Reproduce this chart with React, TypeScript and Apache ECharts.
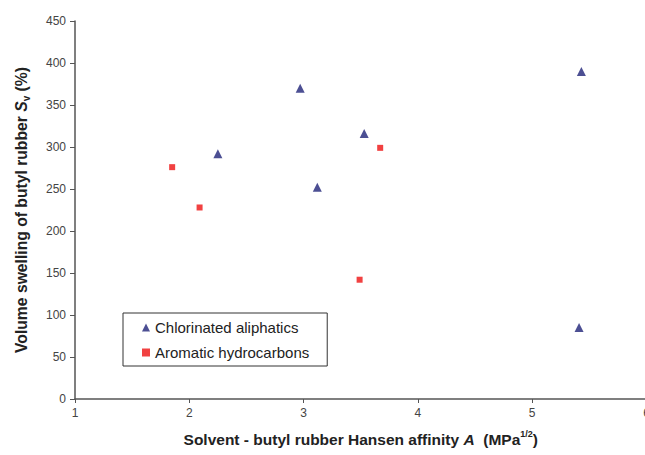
import React, { useEffect, useRef } from "react";
import * as echarts from "echarts";

const chlorinatedX = [5.43, 2.97, 3.53, 2.25, 3.12, 5.41];
const chlorinatedY = [390, 370, 316, 292, 252, 85];
const aromaticX = [1.85, 2.09, 3.67, 3.49];
const aromaticY = [276, 228, 299, 142];
const xTicks = [1, 6, 1];
const yTicks = [0, 450, 50];

export default function App() {
  const ref = useRef<HTMLDivElement>(null);
  useEffect(() => {
    document.body.style.margin = "0";
    const chart = echarts.init(ref.current!, null, { renderer: "svg" });
    const font = "Liberation Sans, Arial, sans-serif";
    chart.setOption({
      animation: false,
      backgroundColor: "#ffffff",
      textStyle: { fontFamily: font },
      grid: { left: 75, right: -1.5, top: 21, bottom: 56, containLabel: false, outerBoundsMode: "none" },
      legend: {
        orient: "vertical",
        left: 123,
        top: 313,
        padding: [7, 18, 6, 19],
        itemGap: 10,
        itemWidth: 8,
        itemHeight: 8,
        itemTextGap: 4,
        itemStyle: { borderWidth: 0 },
        borderColor: "#333333",
        borderWidth: 1,
        textStyle: { fontFamily: font, fontSize: 15, lineHeight: 15, color: "#222222" },
        data: [
          { name: "Chlorinated aliphatics", icon: "triangle" },
          { name: "Aromatic hydrocarbons", icon: "rect" },
        ],
      },
      xAxis: {
        type: "value",
        min: xTicks[0],
        max: xTicks[1],
        interval: xTicks[2],
        splitLine: { show: false },
        axisLine: { lineStyle: { color: "#555555", width: 1.5 } },
        axisTick: { show: true, length: 4, lineStyle: { color: "#555555" } },
        axisLabel: { color: "#444444", fontSize: 12, margin: 8, fontFamily: font },
        name: "Solvent - butyl rubber Hansen affinity {i|A}  (MPa{sup|1/2})",
        nameLocation: "middle",
        nameGap: 30,
        nameTextStyle: {
          fontFamily: font,
          fontSize: 15.5,
          fontWeight: "bold",
          color: "#222222",
          lineHeight: 20,
          rich: {
            i: { fontFamily: font, fontSize: 15.5, fontWeight: "bold", fontStyle: "italic", color: "#222222", lineHeight: 20 },
            sup: { fontFamily: font, fontSize: 9, fontWeight: "bold", color: "#222222", verticalAlign: "top", lineHeight: 20 },
          },
        },
      },
      yAxis: {
        type: "value",
        min: yTicks[0],
        max: yTicks[1],
        interval: yTicks[2],
        splitLine: { show: false },
        axisLine: { show: true, lineStyle: { color: "#555555", width: 1.5 } },
        axisTick: { show: true, length: 5, lineStyle: { color: "#555555" } },
        axisLabel: { color: "#444444", fontSize: 12, margin: 9, fontFamily: font },
        name: "Volume swelling of butyl rubber {i|S}{sub|v} (%)",
        nameLocation: "middle",
        nameRotate: 90,
        nameGap: 44,
        nameTextStyle: {
          fontFamily: font,
          fontSize: 15.7,
          fontWeight: "bold",
          color: "#222222",
          lineHeight: 20,
          rich: {
            i: { fontFamily: font, fontSize: 15.7, fontWeight: "bold", fontStyle: "italic", color: "#222222", lineHeight: 20 },
            sub: { fontFamily: font, fontSize: 10, fontWeight: "bold", color: "#222222", verticalAlign: "bottom", lineHeight: 20 },
          },
        },
      },
      series: [
        {
          name: "Chlorinated aliphatics",
          type: "scatter",
          symbol: "triangle",
          symbolSize: 9,
          itemStyle: { color: "#1f2378" },
          data: chlorinatedX.map((x, i) => [x, chlorinatedY[i]]),
        },
        {
          name: "Aromatic hydrocarbons",
          type: "scatter",
          symbol: "rect",
          symbolSize: 6,
          itemStyle: { color: "#ee1111" },
          data: aromaticX.map((x, i) => [x, aromaticY[i]]),
        },
      ],
    });
    return () => chart.dispose();
  }, []);
  return <div ref={ref} style={{ width: 645, height: 455, position: "absolute", left: 0, top: 0 }} />;
}
